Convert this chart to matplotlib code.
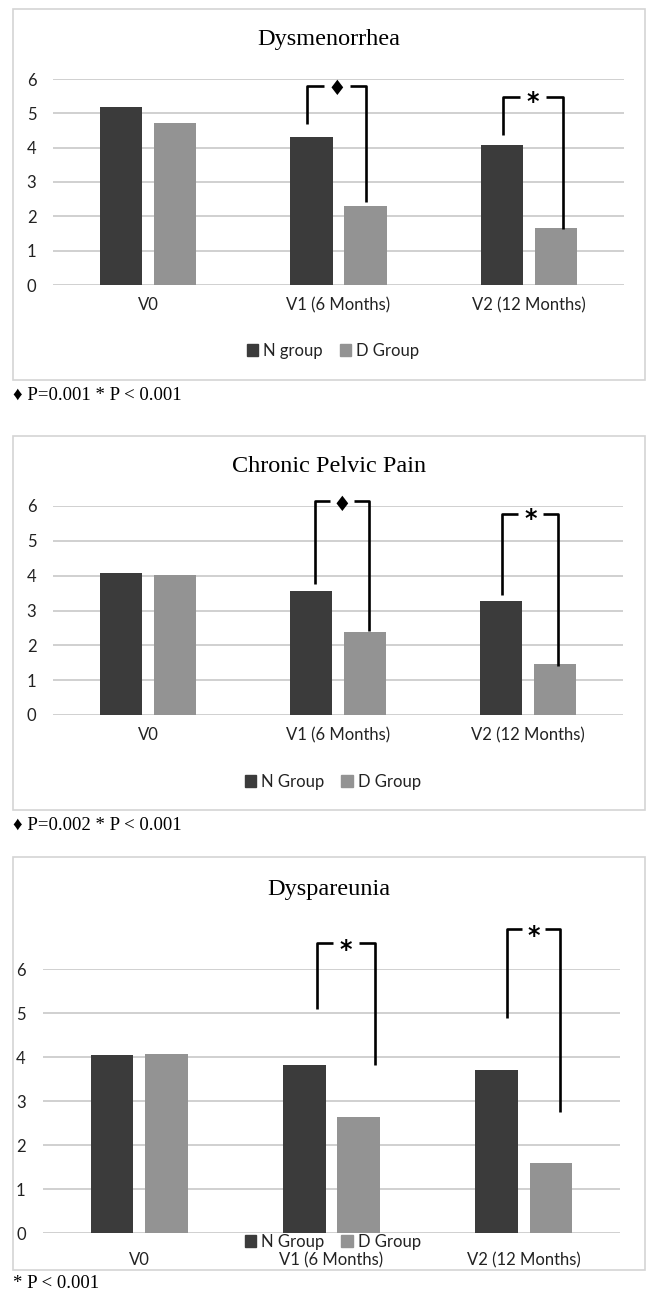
import numpy as np
import matplotlib
matplotlib.use("Agg")
import matplotlib.pyplot as plt
from matplotlib.patches import Rectangle, Patch

categories = ["V0", "V1 (6 Months)", "V2 (12 Months)"]
titles = ["Dysmenorrhea", "Chronic Pelvic Pain", "Dyspareunia"]
legend_n = ["N group", "N Group", "N Group"]
legend_d = ["D Group", "D Group", "D Group"]
footnotes = ["\u2666 P=0.001 * P < 0.001", "\u2666 P=0.002 * P < 0.001", "* P < 0.001"]

n_vals = [[5.17, 4.30, 4.08], [4.09, 3.56, 3.28], [4.05, 3.82, 3.70]]
d_vals = [[4.71, 2.31, 1.65], [4.01, 2.37, 1.46], [4.07, 2.63, 1.60]]

# significance brackets: (category, left foot, top, right foot, symbol)
brackets = [
    [(1, 4.70, 5.80, 2.41, "\u2666"), (2, 4.37, 5.47, 1.63, "*")],
    [(1, 3.75, 6.14, 2.42, "\u2666"), (2, 3.45, 5.77, 1.42, "*")],
    [(1, 5.09, 6.59, 3.82, "*"), (2, 4.89, 6.91, 2.76, "*")],
]
# bracket x offsets relative to category centre (left, right)
bracket_dx = [
    [(-0.165, 0.145), (-0.135, 0.18)],
    [(-0.12, 0.163), (-0.135, 0.16)],
    [(-0.075, 0.226), (-0.087, 0.19)],
]

W, H = 647, 1292
fig = plt.figure(figsize=(W / 100, H / 100), dpi=100)

# pixel layout of each panel: box, plot area (x0, x1, y of 0, y of 6), title y, legend y, footnote y
boxes = [(13, 9, 645, 380), (13, 436, 645, 810), (13, 857, 645, 1270)]
plots = [(53, 624, 285, 79), (53, 623, 715, 506), (43, 620, 1233, 969)]
title_y = [40, 467, 890]
legend_y = [351, 782, 1242]
foot_y = [395, 825, 1283]
label_pad = [12, 12, 12.5]

dark = "#3b3b3b"
light = "#939393"
sans = ["Lato", "DejaVu Sans"]
serif = ["Liberation Serif", "DejaVu Sans"]

bw = 0.222
off = 0.142
x = np.arange(len(categories))

for i in range(3):
    bx0, by0, bx1, by1 = boxes[i]
    fig.patches.append(Rectangle((bx0 / W, 1 - by1 / H), (bx1 - bx0) / W, (by1 - by0) / H,
                                 transform=fig.transFigure, fill=False, edgecolor="#d4d4d4", lw=1.2))
    px0, px1, py0, py6 = plots[i]
    ax = fig.add_axes([px0 / W, 1 - py0 / H, (px1 - px0) / W, (py0 - py6) / H])
    ax.bar(x - off, n_vals[i], bw, color=dark, zorder=3)
    ax.bar(x + off, d_vals[i], bw, color=light, zorder=3)
    ax.set_xlim(-0.5, 2.5)
    ax.set_ylim(0, 6)
    ax.set_yticks(range(7))
    ax.yaxis.grid(True, color="#d0d0d0", lw=1.4, zorder=0)
    ax.set_axisbelow(True)
    for s in ax.spines.values():
        s.set_visible(False)
    ax.tick_params(length=0, labelsize=12, colors="#222222")
    ax.tick_params(axis="y", pad=label_pad[i])
    ax.tick_params(axis="x", pad=9 if i < 2 else 14)
    ax.set_xticks(x)
    ax.set_xticklabels(categories, fontfamily=sans)
    for t in ax.get_yticklabels():
        t.set_fontfamily(sans)

    for (c, yl, yt, yr, sym), (dl, dr) in zip(brackets[i], bracket_dx[i]):
        xl, xr = c + dl, c + dr
        xm = (xl + xr) / 2
        g = (xr - xl) * 0.22
        kw = dict(color="black", lw=1.9, clip_on=False, zorder=5, solid_capstyle="butt")
        ax.plot([xl, xl, xm - g], [yl, yt, yt], **kw)
        ax.plot([xm + g, xr, xr], [yt, yt, yr], **kw)
        if sym == "*":
            ax.text(xm, yt - 0.15, sym, ha="center", va="center", fontsize=17, fontweight="bold",
                    fontfamily=["DejaVu Sans"], clip_on=False)
        else:
            ax.text(xm, yt - 0.1, sym, ha="center", va="center", fontsize=15,
                    fontfamily=["DejaVu Sans"], clip_on=False)

    fig.text((bx0 + bx1) / 2 / W, 1 - title_y[i] / H, titles[i], ha="center", va="center",
             fontsize=17.5, fontfamily=serif)
    handles = [Patch(color=dark, label=legend_n[i]), Patch(color=light, label=legend_d[i])]
    fig.legend(handles=handles, loc="center", bbox_to_anchor=(333 / W, 1 - legend_y[i] / H),
               ncol=2, frameon=False, prop={"family": sans, "size": 12},
               handlelength=0.7, handleheight=0.7, handletextpad=0.3, columnspacing=1.0,
               labelcolor="#222222")
    fig.text(13 / W, 1 - foot_y[i] / H, footnotes[i], ha="left", va="center",
             fontsize=13.5, fontfamily=serif)

fig.savefig("out.png", dpi=100)
